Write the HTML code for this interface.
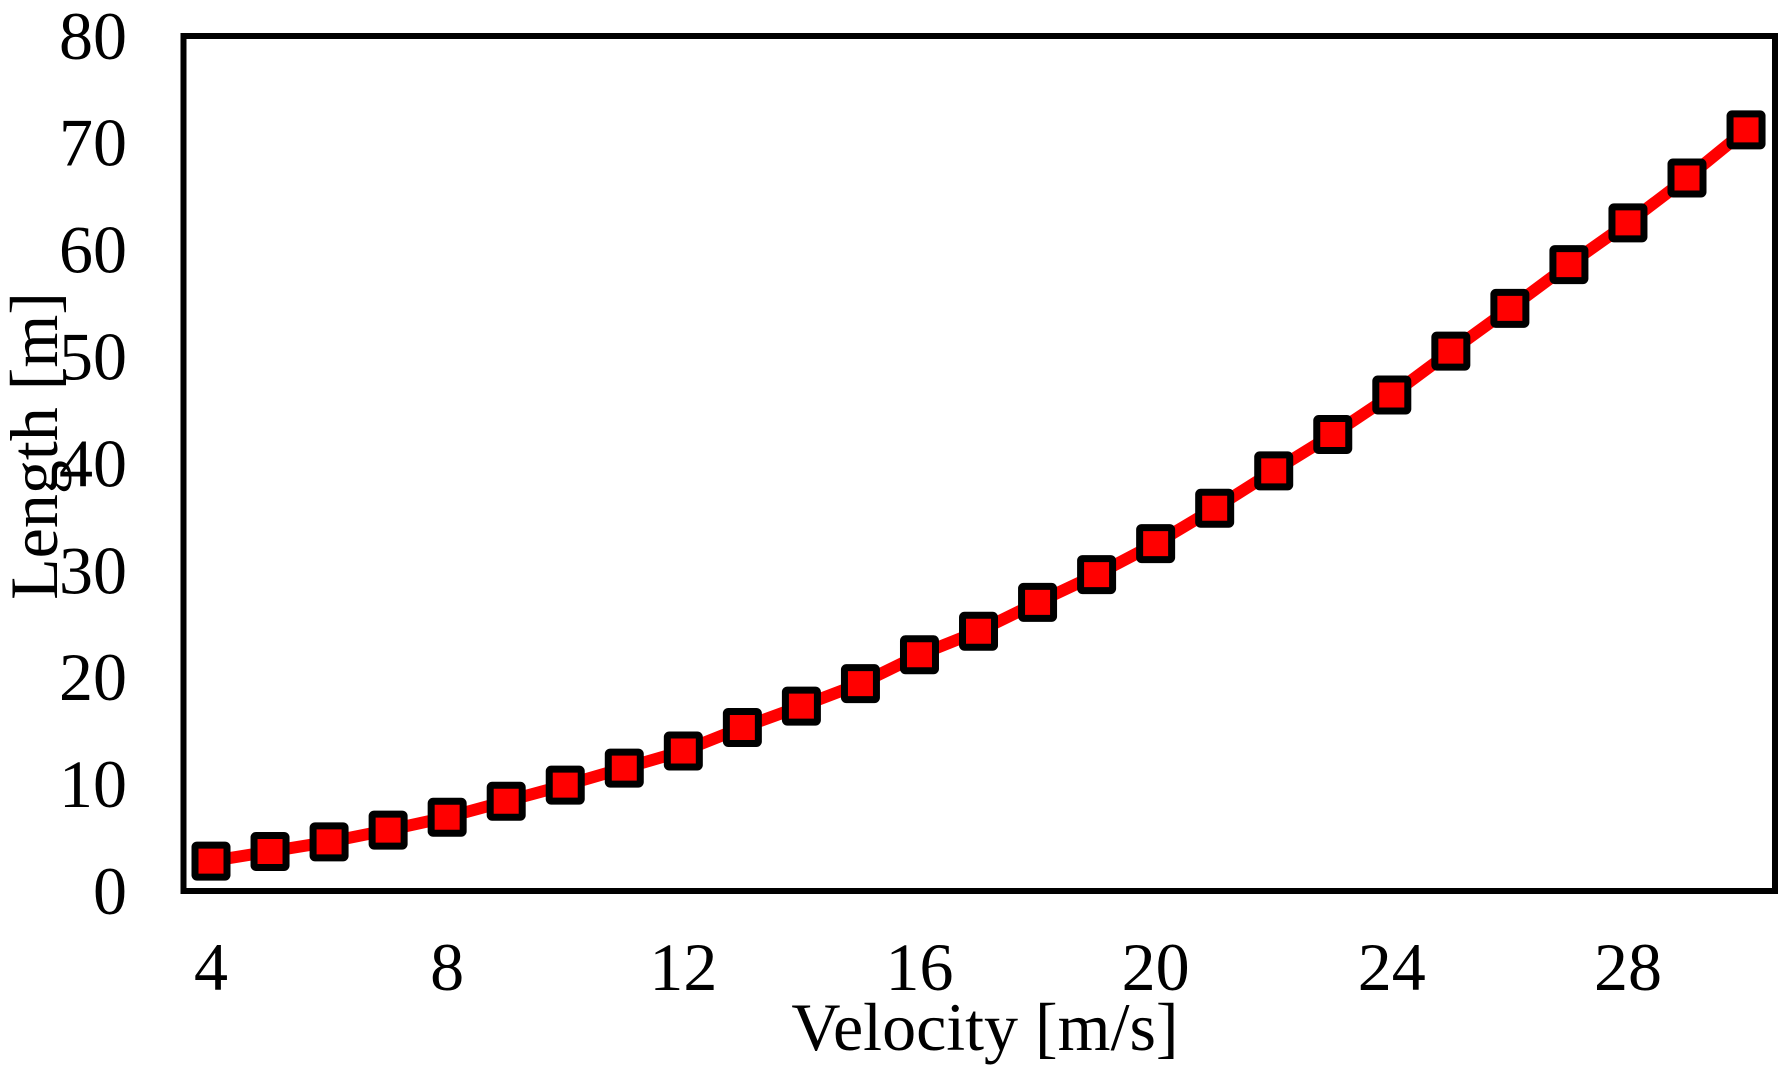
<!DOCTYPE html>
<html><head><meta charset="utf-8"><style>
html,body{margin:0;padding:0;background:#fff;}
svg{display:block;}
text{font-family:"Liberation Serif",serif;fill:#000;}
</style></head><body>
<svg id="chart" width="1792" height="1073" viewBox="0 0 1792 1073" xmlns="http://www.w3.org/2000/svg"></svg>
<script>
const velocities=[4,5,6,7,8,9,10,11,12,13,14,15,16,17,18,19,20,21,22,23,24,25,26,27,28,29,30];
const lengths=[2.8,3.7,4.6,5.7,6.9,8.4,9.9,11.5,13.1,15.3,17.3,19.4,22.1,24.3,27.0,29.6,32.5,35.8,39.3,42.7,46.4,50.5,54.5,58.6,62.5,66.7,71.2];
const xTicks=[4,8,12,16,20,24,28];
const yTicks=[0,10,20,30,40,50,60,70,80];

const NS="http://www.w3.org/2000/svg";
const svg=document.getElementById('chart');
const X=v=>211+(v-4)*59.04;
const Y=v=>891-v*10.69;
function mk(tag,attrs,parent){const e=document.createElementNS(NS,tag);for(const k in attrs)e.setAttribute(k,attrs[k]);(parent||svg).appendChild(e);return e;}

const frame=mk('rect',{x:183.5,y:36,width:1591.5,height:855,fill:'none',stroke:'#000','stroke-width':6});



yTicks.forEach(t=>{
  const el=mk('text',{x:127,y:Y(t)+23,'font-size':68,'text-anchor':'end'});
  el.textContent=t;
  
  
});
xTicks.forEach(t=>{
  const el=mk('text',{x:X(t),y:990,'font-size':68,'text-anchor':'middle'});
  el.textContent=t;
  
  
});
const xt=mk('text',{x:985,y:1050,'font-size':68,'text-anchor':'middle'});
xt.textContent='Velocity [m/s]';


const yt=mk('text',{x:0,y:0,'font-size':68,'text-anchor':'middle',transform:'translate(57,446) rotate(-90)'});
yt.textContent='Length [m]';



const pts=velocities.map((v,i)=>X(v)+','+Y(lengths[i])).join(' ');
const line=mk('polyline',{points:pts,fill:'none',stroke:'#ff0000','stroke-width':12,'stroke-linejoin':'round'});



velocities.forEach((v,i)=>{
  const r=mk('rect',{x:X(v)-16,y:Y(lengths[i])-16,width:32,height:32,rx:2,fill:'#ff0000',stroke:'#000','stroke-width':7});
  
  
});
</script>
</body></html>
